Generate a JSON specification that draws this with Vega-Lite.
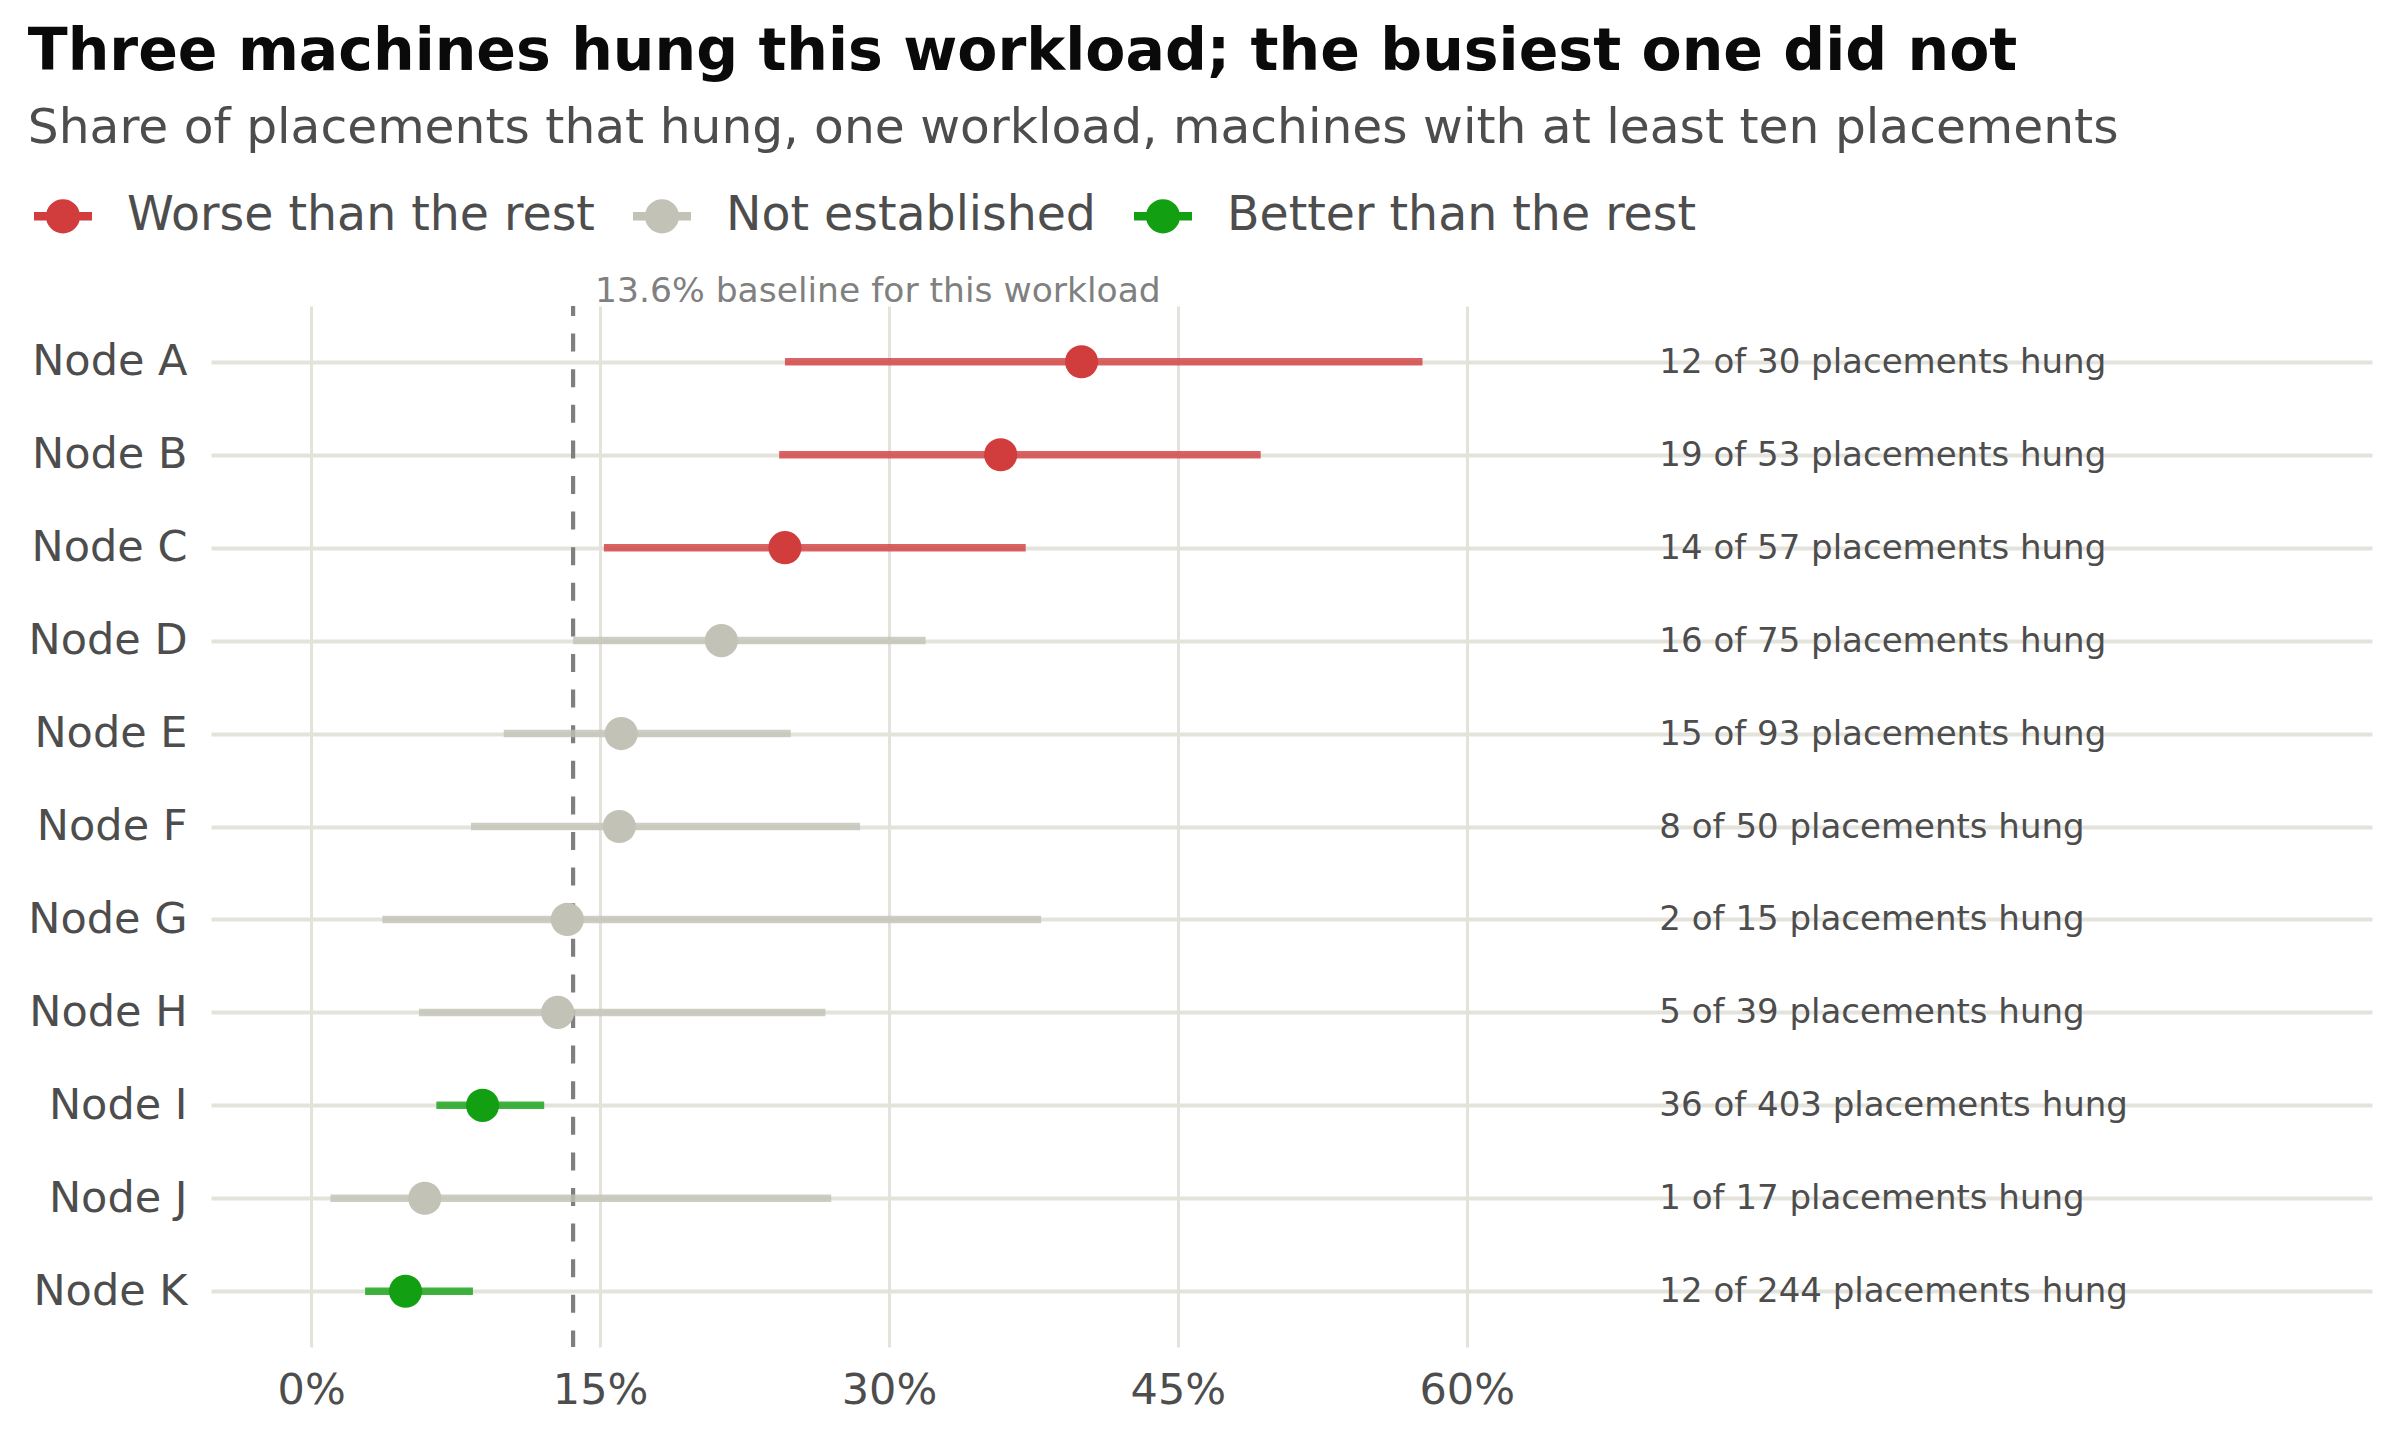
{
  "$schema": "https://vega.github.io/schema/vega-lite/v6.json",
  "autosize": {"type": "none"},
  "width": 2161,
  "height": 1041,
  "padding": {"left": 211, "top": 306, "right": 28, "bottom": 93},
  "background": "white",
  "title": {
    "text": "Three machines hung this workload; the busiest one did not",
    "subtitle": "Share of placements that hung, one workload, machines with at least ten placements",
    "anchor": "start",
    "frame": "bounds",
    "font": "DejaVu Sans",
    "fontSize": 58.5,
    "fontWeight": "bold",
    "color": "#0a0a0a",
    "subtitleFont": "DejaVu Sans",
    "subtitleFontSize": 48.7,
    "subtitleColor": "#4d4d4d",
    "subtitlePadding": 23,
    "offset": 33
  },
  "datasets": {
    "nodes": [
      {"node": "Node A", "hung": 12, "total": 30, "rate": 0.400, "lo": 0.246, "hi": 0.577, "verdict": "Worse than the rest", "note": "12 of 30 placements hung"},
      {"node": "Node B", "hung": 19, "total": 53, "rate": 0.358, "lo": 0.243, "hi": 0.493, "verdict": "Worse than the rest", "note": "19 of 53 placements hung"},
      {"node": "Node C", "hung": 14, "total": 57, "rate": 0.246, "lo": 0.152, "hi": 0.371, "verdict": "Worse than the rest", "note": "14 of 57 placements hung"},
      {"node": "Node D", "hung": 16, "total": 75, "rate": 0.213, "lo": 0.136, "hi": 0.319, "verdict": "Not established", "note": "16 of 75 placements hung"},
      {"node": "Node E", "hung": 15, "total": 93, "rate": 0.161, "lo": 0.100, "hi": 0.249, "verdict": "Not established", "note": "15 of 93 placements hung"},
      {"node": "Node F", "hung": 8, "total": 50, "rate": 0.160, "lo": 0.083, "hi": 0.285, "verdict": "Not established", "note": "8 of 50 placements hung"},
      {"node": "Node G", "hung": 2, "total": 15, "rate": 0.133, "lo": 0.037, "hi": 0.379, "verdict": "Not established", "note": "2 of 15 placements hung"},
      {"node": "Node H", "hung": 5, "total": 39, "rate": 0.128, "lo": 0.056, "hi": 0.267, "verdict": "Not established", "note": "5 of 39 placements hung"},
      {"node": "Node I", "hung": 36, "total": 403, "rate": 0.089, "lo": 0.065, "hi": 0.121, "verdict": "Better than the rest", "note": "36 of 403 placements hung"},
      {"node": "Node J", "hung": 1, "total": 17, "rate": 0.059, "lo": 0.010, "hi": 0.270, "verdict": "Not established", "note": "1 of 17 placements hung"},
      {"node": "Node K", "hung": 12, "total": 244, "rate": 0.049, "lo": 0.028, "hi": 0.084, "verdict": "Better than the rest", "note": "12 of 244 placements hung"}
    ],
    "baseline": [
      {"rate": 0.136, "label": "13.6% baseline for this workload"}
    ]
  },
  "layer": [
    {
      "data": {"name": "baseline"},
      "mark": {"type": "rule", "color": "#7f7f7f", "strokeWidth": 4.2, "strokeDash": [18, 17.6], "strokeDashOffset": 8},
      "encoding": {
        "x": {
          "field": "rate",
          "type": "quantitative",
          "title": null,
          "scale": {"domain": [-0.052, 1.07], "nice": false, "zero": false},
          "axis": {"values": [0, 0.15, 0.3, 0.45, 0.6], "format": ".0%"}
        }
      }
    },
    {
      "data": {"name": "baseline"},
      "mark": {"type": "text", "align": "left", "baseline": "alphabetic", "dx": 22, "dy": -60, "fontSize": 34.5, "color": "#808080"},
      "encoding": {
        "x": {"field": "rate", "type": "quantitative", "title": null},
        "y": {"datum": "Node A", "type": "nominal"},
        "text": {"field": "label"}
      }
    },
    {
      "data": {"name": "nodes"},
      "mark": {"type": "rule", "strokeWidth": 7.5, "opacity": 0.8},
      "encoding": {
        "x": {"field": "lo", "type": "quantitative", "title": null},
        "x2": {"field": "hi"},
        "y": {"field": "node", "type": "nominal", "title": null, "scale": {"type": "point", "padding": 0.6}},
        "color": {
          "field": "verdict",
          "type": "nominal",
          "scale": {"domain": ["Worse than the rest", "Not established", "Better than the rest"], "range": ["#d13c3c", "#c2c2b7", "#12a012"]}
        }
      }
    },
    {
      "data": {"name": "nodes"},
      "mark": {"type": "point", "filled": true, "size": 1100, "opacity": 1},
      "encoding": {
        "x": {"field": "rate", "type": "quantitative", "title": null},
        "y": {"field": "node", "type": "nominal", "title": null},
        "color": {
          "field": "verdict",
          "type": "nominal",
          "legend": {
            "orient": "none",
            "legendX": -177,
            "legendY": -119,
            "direction": "horizontal",
            "title": null,
            "symbolType": "M-1,-0.145H1V0.145H-1Z M0.59,0A0.59,0.59 0 1,1 -0.59,0A0.59,0.59 0 1,1 0.59,0Z",
            "symbolSize": 3364,
            "symbolStrokeWidth": 0,
            "symbolOpacity": 1,
            "labelFontSize": 47.4,
            "labelColor": "#4d4d4d",
            "labelLimit": 1000,
            "labelOffset": 35,
            "columnPadding": 38,
            "padding": 0,
            "encode": {
              "symbols": {
                "update": {
                  "fill": {"scale": "color", "field": "value"},
                  "opacity": {"value": 1}
                }
              }
            }
          }
        }
      }
    },
    {
      "data": {"name": "nodes"},
      "mark": {"type": "text", "align": "left", "baseline": "alphabetic", "dy": 11, "fontSize": 34, "color": "#4d4d4d"},
      "encoding": {
        "x": {"datum": 0.70, "type": "quantitative"},
        "y": {"field": "node", "type": "nominal", "title": null},
        "text": {"field": "note"}
      }
    }
  ],
  "config": {
    "font": "DejaVu Sans",
    "view": {"stroke": null},
    "axis": {
      "domain": false,
      "ticks": false,
      "tickSize": 0,
      "grid": true,
      "gridColor": "#e3e3dc",
      "labelFont": "DejaVu Sans",
      "labelFontSize": 43,
      "labelColor": "#4d4d4d"
    },
    "axisX": {"gridWidth": 3, "labelPadding": 22},
    "axisY": {"gridWidth": 4, "labelPadding": 24},
    "legend": {"labelFont": "DejaVu Sans"},
    "text": {"font": "DejaVu Sans"}
  }
}
